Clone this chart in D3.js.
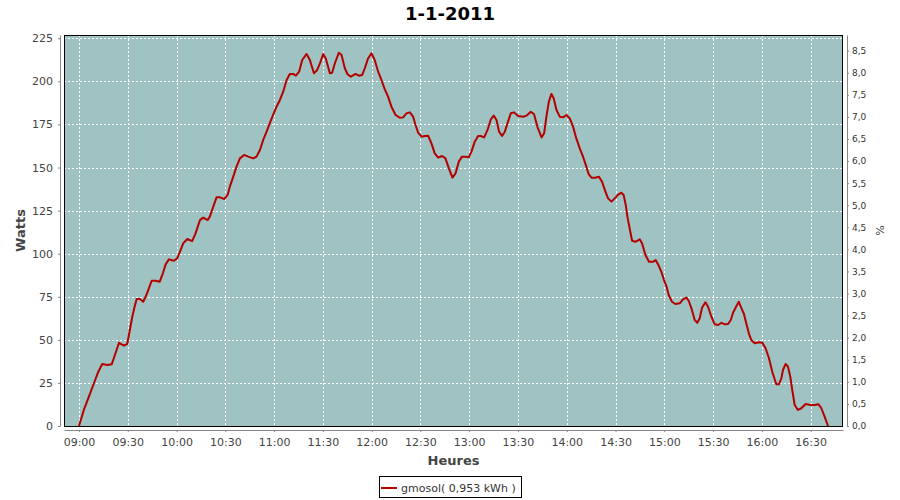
<!DOCTYPE html>
<html><head><meta charset="utf-8">
<script src="https://cdn.jsdelivr.net/npm/d3@7"></script>
<style>
body{margin:0;background:#fff;}
svg{display:block;font-family:"DejaVu Sans",sans-serif;}
</style></head>
<body><svg id="c" width="900" height="500"></svg>
<script>
const title = "1-1-2011";
const seriesName = "gmosol( 0,953 kWh )";
const startTime = [2011, 0, 1, 9, 0];
// minutes after 09:00
const minutes = [0,3,6.1,9.2,11.9,14.3,17.4,20.1,22.1,24.6,27.7,29.7,30.7,32.8,34.2,35.5,37.5,39.5,41,43,44.7,47.1,49.6,51.6,53.3,55.3,58.4,60.4,62.5,64.1,66.6,69.6,71.7,
74.4,76.4,79.1,80.5,82.6,84.6,86.7,89.3,91.4,92.8,94.9,96.9,99,101.6,104.1,107.2,109.2,111.3,113.3,115.4,117.4,119.4,121.5,123.6,125.6,127.7,129.7,131.7,133.4,135.4,137.3,140,142,144.5,146.5,148.2,150.2,151.8,154.3,155.7,157.4,
159.8,161.5,163.5,165.2,167.2,170.1,172.1,174.2,175.8,177.8,179.9,181.9,184,186,188.1,190.1,192.2,194.7,197.3,199.4,201.4,203.5,205.5,207,208.6,210.7,212.7,214.7,216.8,218.8,220.9,223.3,225.4,227.5,229.7,231.6,233.6,235.6,237.7,239.7,241.4,243.4,
245.5,247.1,249.2,251.3,253.3,255.1,256.8,258.4,260.2,261.9,263.9,265.6,267.6,270.1,273.2,275.2,277.9,279.9,282,284.5,286.1,287.5,289,290.6,292,293.7,295.7,297.7,299.8,301.8,303.9,305.9,308,310,311.7,313.5,315.2,317.6,319.7,321.7,323.8,325.4,327.5,329.5,
331.5,333.6,335,336.3,337.3,338.7,340.2,342.2,344.9,346.3,348.4,350.6,353,354.7,356.7,358.2,359.8,361.3,362.7,364.7,366.8,369.5,371.5,373.6,375,376.7,378.7,380.3,381.8,383.2,385.3,386.9,389,391,393.1,395.2,397.2,399.2,400.9,402.3,404,405.8,407.5,
409,410.4,412,413.5,415.6,418.2,420.3,422.3,424.4,426.4,428.9,430.5,432,433,434.6,436.1,437.5,438.7,440.2,442.2,444.3,446.9,449.8,452.5,454.9,456.6,458.6,460.7];
const watts = [0,9.3,17,24.8,31.5,36,35.4,35.8,41.2,48.3,46.6,47.6,52.8,63.4,69.2,73.7,73.7,72.1,75,79.9,84.3,84.3,83.7,88.6,93.8,96.7,95.9,97.3,102.1,106,108.5,107.3,111.8,
119.5,120.9,119.5,121.5,127.3,132.7,132.7,131.7,134.1,138.9,144.7,150.5,155.3,157.3,156.3,155.3,156.3,160.2,166,170.8,175.7,180.5,185.3,189.2,194,200.8,204.3,204.3,203.3,205.6,212.4,215.9,212.4,204.7,206.6,210.5,215.9,213.3,204.7,205,210.5,
216.6,215.3,207.6,204.1,202.7,204.3,203.3,203.7,207.6,213.3,216.3,212.4,205.6,200.8,195.4,191.1,185.3,180.5,178.9,179.1,181.4,182,179.5,174.7,170.2,167.9,168.3,168.5,164,158.2,155.7,156.7,155.3,149.5,144.1,146.6,153.4,156.3,156.3,155.9,159.2,165,
168.3,168.3,167.5,171.8,178,180.1,177.6,170.8,168.3,170.8,176.6,181.5,182,179.9,179.5,180.1,182.4,180.9,173.5,167.5,169.9,179.5,188.2,192.7,190.1,183.4,179.5,179.1,180.5,178.6,173.7,166.9,161.1,156.3,151.5,146.1,144.1,144.1,144.7,141.8,136,132.1,130.2,132.1,
134.1,135.4,134.1,128.2,121.5,114.7,107.5,106.9,108.3,106,99.2,95.3,95.3,96.3,92.8,89.5,84.7,81.2,76,72.1,70.8,71.2,73.5,74.5,72.7,68.3,61.5,59.9,62.5,68.6,71.8,69.2,63.4,59,58.6,59.9,59,59.2,61.5,65.7,68.9,72.1,68.3,
65,59.6,53.8,49.9,48,48.6,48.3,45.1,39.3,31.5,24.2,24.2,27.7,32.5,36,34.4,28.6,20.9,12.2,9.3,10.3,12.8,12.2,12.2,12.6,10.3,5.4,0];
const leftTicks = [0,25,50,75,100,125,150,175,200,225];
const rightTicks = [0,0.5,1,1.5,2,2.5,3,3.5,4,4.5,5,5.5,6,6.5,7,7.5,8,8.5];
const leftMax = 226.9, rightMax = 8.855;
const xLabel = "Heures", yLabel = "Watts", y2Label = "%";

const L = 64, T = 35, R = 843, B = 426;
const svg = d3.select("#c");
const t0 = new Date(...startTime).getTime();
const data = minutes.map((m, i) => ({t: new Date(t0 + m * 60000), v: watts[i]}));
const ext = d3.extent(data, d => d.t.getTime());
const pad = (ext[1] - ext[0]) * 0.02;
const x = d3.scaleTime().domain([new Date(ext[0] - pad), new Date(ext[1] + pad)]).range([L, R]);
const y = d3.scaleLinear().domain([0, leftMax]).range([B, T]);
const y2 = d3.scaleLinear().domain([0, rightMax]).range([B, T]);
const xTicks = d3.timeMinute.every(30).range(new Date(ext[0]), new Date(ext[1] + 1));

svg.append("rect").attr("x", L).attr("y", T).attr("width", R - L).attr("height", B - T).attr("fill", "#9fc3c2");
const g = svg.append("g");
g.selectAll(".vg").data(xTicks).join("line")
  .attr("x1", d => Math.round(x(d)) + 0.5).attr("x2", d => Math.round(x(d)) + 0.5)
  .attr("y1", T).attr("y2", B).attr("stroke", "#fff").attr("stroke-dasharray", "2,2");
g.selectAll(".hg").data(leftTicks).join("line")
  .attr("y1", d => Math.round(y(d)) + 0.5).attr("y2", d => Math.round(y(d)) + 0.5)
  .attr("x1", L).attr("x2", R).attr("stroke", "#fff").attr("stroke-dasharray", "2,2");

const line = d3.line().x(d => x(d.t)).y(d => y(d.v));
svg.append("path").datum(data).attr("d", line).attr("fill", "none")
  .attr("stroke", "#b50000").attr("stroke-width", 2).attr("stroke-linejoin", "round");

svg.append("rect").attr("x", L + 0.5).attr("y", T + 0.5).attr("width", R - L - 1).attr("height", B - T)
  .attr("fill", "none").attr("stroke", "#000");

function style(ax) {
  ax.select(".domain").attr("stroke", "#888");
  ax.selectAll(".tick line").attr("stroke", "#888");
  ax.selectAll(".tick text").attr("fill", "#444");
}
const ax = svg.append("g").attr("transform", `translate(0,${B + 4})`)
  .call(d3.axisBottom(x).tickValues(xTicks).tickFormat(d3.timeFormat("%H:%M")).tickSizeInner(2).tickSizeOuter(0).tickPadding(6))
  .attr("font-size", 11).attr("font-family", "DejaVu Sans");
style(ax);
const ay = svg.append("g").attr("transform", `translate(${L - 4},0)`)
  .call(d3.axisLeft(y).tickValues(leftTicks).tickSizeInner(2).tickSizeOuter(0).tickPadding(5))
  .attr("font-size", 11).attr("font-family", "DejaVu Sans");
style(ay);
const fmt = v => d3.format(".1f")(v).replace(".", ",");
const ay2 = svg.append("g").attr("transform", `translate(${R + 4},0)`)
  .call(d3.axisRight(y2).tickValues(rightTicks).tickFormat(fmt).tickSizeInner(2).tickSizeOuter(0).tickPadding(3))
  .attr("font-size", 9).attr("font-family", "DejaVu Sans");
style(ay2);
ay2.selectAll(".tick text").attr("fill", "#333");

svg.append("text").attr("x", 450).attr("y", 20).attr("text-anchor", "middle")
  .attr("font-size", 18).attr("font-weight", "bold").attr("fill", "#000").text(title);
svg.append("text").attr("x", (L + R) / 2).attr("y", 465).attr("text-anchor", "middle")
  .attr("font-size", 13).attr("font-weight", "bold").attr("fill", "#444").text(xLabel);
svg.append("text").attr("transform", `translate(25,${(T + B) / 2}) rotate(-90)`).attr("text-anchor", "middle")
  .attr("font-size", 13).attr("font-weight", "bold").attr("fill", "#444").text(yLabel);
svg.append("text").attr("transform", `translate(876,${(T + B) / 2}) rotate(90)`).attr("text-anchor", "middle")
  .attr("font-size", 11).attr("fill", "#444").text(y2Label);

const lg = svg.append("g");
lg.append("rect").attr("x", 379.5).attr("y", 476.5).attr("width", 142).attr("height", 21)
  .attr("fill", "#fff").attr("stroke", "#000");
lg.append("line").attr("x1", 381).attr("x2", 397).attr("y1", 488).attr("y2", 488)
  .attr("stroke", "#b50000").attr("stroke-width", 2);
lg.append("text").attr("x", 401).attr("y", 492).attr("font-size", 11).attr("fill", "#333").text(seriesName);
</script></body></html>
